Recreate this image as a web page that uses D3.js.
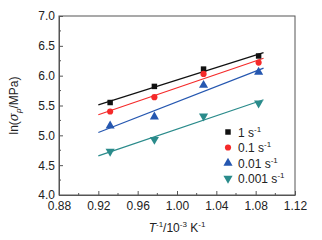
<!DOCTYPE html>
<html>
<head>
<meta charset="utf-8">
<script src="https://cdn.jsdelivr.net/npm/d3@7"></script>
<style>
body { margin: 0; background: #fff; }
text { font-family: "Liberation Sans", Arial, sans-serif; fill: #222; }
</style>
</head>
<body>
<div id="chart"></div>
<script>
// data
const invT = [0.932, 0.977, 1.027, 1.083];
const rates = ["1", "0.1", "0.01", "0.001"];
const lnS_1 = [5.55, 5.82, 6.11, 6.33];
const lnS_01 = [5.40, 5.64, 6.03, 6.22];
const lnS_001 = [5.16, 5.31, 5.84, 6.06];
const lnS_0001 = [4.73, 4.93, 5.32, 5.54];
const xTicks = [0.88, 0.92, 0.96, 1.00, 1.04, 1.08, 1.12];
const yTicks = [4.0, 4.5, 5.0, 5.5, 6.0, 6.5, 7.0];

const series = [
  {name: rates[0], vals: lnS_1, color: "#111111", shape: d3.symbolSquare, size: 30},
  {name: rates[1], vals: lnS_01, color: "#f52a2a", shape: d3.symbolCircle, size: 30},
  {name: rates[2], vals: lnS_001, color: "#2557b0", shape: d3.symbolTriangle, size: 36},
  {name: rates[3], vals: lnS_0001, color: "#2a8b8b", shape: "down", size: 36}
];

const margin = {top: 16, right: 27, bottom: 45, left: 59},
    width = 322 - margin.left - margin.right,
    height = 240 - margin.top - margin.bottom;

const svg = d3.select("#chart")
    .append("svg")
    .attr("width", 322)
    .attr("height", 240)
    .append("g")
    .attr("transform", `translate(${margin.left},${margin.top})`);

const x = d3.scaleLinear().domain([0.88, 1.12]).range([0, width]);
const y = d3.scaleLinear().domain([4.0, 7.0]).range([height, 0]);

// frame
svg.append("rect")
    .attr("width", width)
    .attr("height", height)
    .attr("fill", "none")
    .attr("stroke", "#555")
    .attr("stroke-width", 1);

// x axis with inward ticks
const xAxis = svg.append("g")
    .attr("transform", `translate(0, ${height})`)
    .call(d3.axisBottom(x).tickValues(xTicks).tickFormat(d3.format(".2f")).tickSizeInner(-4).tickSizeOuter(0));
xAxis.select(".domain").attr("stroke", "#555");
xAxis.selectAll(".tick line").attr("stroke", "#555");
xAxis.selectAll(".tick text").attr("dy", "0.95em").attr("y", 4).style("font-size", "12px").attr("fill", "#222");
xAxis.append("g").selectAll("line")
    .data(xTicks.slice(0, -1).map(d => d + 0.02))
    .join("line")
    .attr("x1", d => x(d)).attr("x2", d => x(d))
    .attr("y1", 0).attr("y2", -2)
    .attr("stroke", "#555");

// y axis with inward ticks
const yAxis = svg.append("g")
    .call(d3.axisLeft(y).tickValues(yTicks).tickFormat(d3.format(".1f")).tickSizeInner(-4).tickSizeOuter(0));
yAxis.select(".domain").attr("stroke", "#555");
yAxis.selectAll(".tick line").attr("stroke", "#555");
yAxis.selectAll(".tick text").attr("x", -4).style("font-size", "12px").attr("fill", "#222");
yAxis.append("g").selectAll("line")
    .data(yTicks.slice(0, -1).map(d => d + 0.25))
    .join("line")
    .attr("y1", d => y(d)).attr("y2", d => y(d))
    .attr("x1", 0).attr("x2", 2)
    .attr("stroke", "#555");

// linear fit lines
series.forEach(s => {
    const mx = d3.mean(invT), my = d3.mean(s.vals);
    const b = d3.sum(invT, (t, i) => (t - mx) * (s.vals[i] - my)) / d3.sum(invT, t => (t - mx) ** 2);
    const a = my - b * mx;
    svg.append("line")
        .attr("x1", x(0.92)).attr("y1", y(a + b * 0.92))
        .attr("x2", x(1.088)).attr("y2", y(a + b * 1.088))
        .attr("stroke", s.color)
        .attr("stroke-width", 1.2);
});

function symbolPath(s) {
    const type = s.shape === "down" ? d3.symbolTriangle : s.shape;
    return d3.symbol().type(type).size(s.size)();
}

// points
series.forEach(s => {
    svg.append("g")
        .selectAll("path")
        .data(s.vals)
        .join("path")
        .attr("d", symbolPath(s))
        .attr("transform", (d, i) => `translate(${x(invT[i])},${y(d)})` + (s.shape === "down" ? " rotate(180)" : ""))
        .attr("fill", s.color);
});

// legend
const legend = svg.append("g").attr("transform", `translate(169, 116)`);
series.forEach((s, i) => {
    const row = legend.append("g").attr("transform", `translate(0, ${i * 15.5})`);
    row.append("path")
        .attr("d", symbolPath(s))
        .attr("transform", s.shape === "down" ? "rotate(180)" : null)
        .attr("fill", s.color);
    const t = row.append("text")
        .attr("x", 10)
        .attr("y", 4.5)
        .style("font-size", "12px");
    t.append("tspan").text(s.name + " s");
    t.append("tspan").attr("dy", -5).style("font-size", "8px").text("-1");
});

// y axis label
const yl = svg.append("text")
    .attr("transform", `translate(-41, ${height / 2}) rotate(-90)`)
    .attr("text-anchor", "middle")
    .style("font-size", "12px");
yl.append("tspan").text("ln(");
yl.append("tspan").style("font-style", "italic").style("font-family", "DejaVu Serif, serif").text("σ");
yl.append("tspan").attr("dy", 3).style("font-size", "8px").style("font-style", "italic").text("p");
yl.append("tspan").attr("dy", -3).text("/MPa)");

// x axis label
const xl = svg.append("text")
    .attr("x", width / 2)
    .attr("y", height + 37)
    .attr("text-anchor", "middle")
    .style("font-size", "12px");
xl.append("tspan").style("font-style", "italic").text("T");
xl.append("tspan").attr("dy", -5).style("font-size", "8px").text("-1");
xl.append("tspan").attr("dy", 5).text("/10");
xl.append("tspan").attr("dy", -5).style("font-size", "8px").text("-3");
xl.append("tspan").attr("dy", 5).text(" K");
xl.append("tspan").attr("dy", -5).style("font-size", "8px").text("-1");
</script>
</body>
</html>
